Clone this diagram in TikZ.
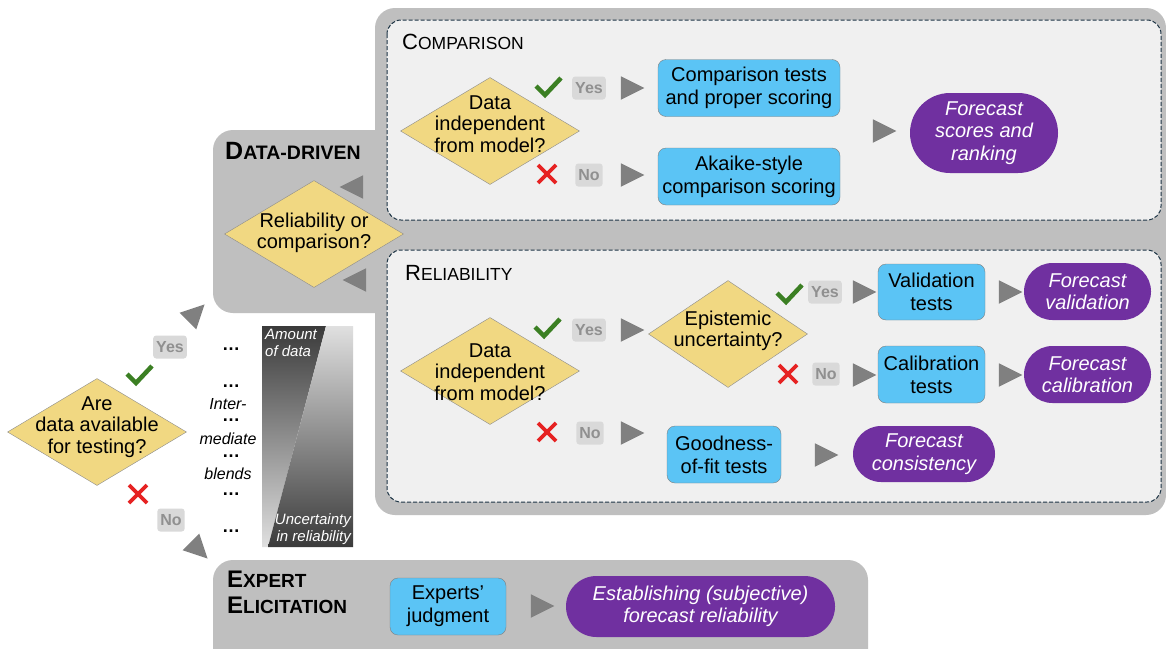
\documentclass[tikz,border=0pt]{standalone}
\usepackage{fontspec}
\setmainfont{Liberation Sans}
\usetikzlibrary{shapes.geometric,shapes.misc,positioning}

\definecolor{regiongray}{HTML}{BFBFBF}
\definecolor{panelfill}{HTML}{F0F0F0}
\definecolor{stagenavy}{HTML}{1C3344}
\definecolor{diamondfill}{HTML}{F1D882}
\definecolor{diamondline}{HTML}{8C8C8C}
\definecolor{testblue}{HTML}{5BC4F5}
\definecolor{testline}{HTML}{7F7F7F}
\definecolor{outpurple}{HTML}{7030A0}
\definecolor{arrowgray}{HTML}{808080}
\definecolor{taggray}{HTML}{D9D9D9}
\definecolor{tagtext}{HTML}{909090}
\definecolor{checkgreen}{HTML}{3B7F23}
\definecolor{crossred}{HTML}{E62222}
\definecolor{bardark}{HTML}{3A3A3A}
\definecolor{barlight}{HTML}{E0E0E0}

\newcommand\fs[2]{\fontsize{#1}{#2}\selectfont}
\newcommand\scword[4]{{\fs{#1}{#1}#3}{\fs{#2}{#2}#4}}

\begin{document}
\begin{tikzpicture}[x=1pt,y=-1pt,
	decision/.style={diamond, draw=diamondline, fill=diamondfill, minimum width=179pt, minimum height=107pt, inner sep=0pt},
	qtext/.style={align=center, font=\fs{20}{21.5}, inner sep=0pt},
	testbox/.style={rectangle, rounded corners=8pt, draw=testline, fill=testblue, align=center, font=\fs{20}{23}, inner sep=0pt, minimum height=57pt},
	outcome/.style={rounded rectangle, fill=outpurple, text=white, align=center, font=\fs{20}{22.5}\itshape, inner sep=0pt, minimum height=57pt},
	go/.style={isosceles triangle, isosceles triangle stretches, fill=arrowgray, minimum width=23.5pt, minimum height=23.5pt, inner sep=0pt},
	tag/.style={fill=taggray, text=tagtext, rounded corners=3pt, font=\fs{16}{16}\bfseries, inner xsep=3pt, inner ysep=0pt, minimum height=23pt},
	tick/.pic={\draw[checkgreen, line width=4.5pt] (-12,-1) -- (-3,8) -- (13,-9);},
	cross/.pic={\draw[crossred, line width=3.8pt] (-9,-9) -- (9,9) (-9,9) -- (9,-9);},
	stage/.style={draw=stagenavy, fill=panelfill, dash pattern=on 4pt off 2pt, line width=1pt, rounded corners=14pt},
	label/.style={anchor=base west, inner sep=0pt},
	blend/.style={font=\fs{16}{16}\itshape, inner sep=0pt},
	bartext/.style={text=white, font=\fs{15}{17}\itshape, inner sep=0pt},
	]
	\useasboundingbox (0,0) rectangle (1166,648);
	\fill[white] (0,0) rectangle (1166,648);

	% gray regions
	\fill[regiongray, rounded corners=20pt] (213,130) rectangle (420,313);
	\fill[regiongray, rounded corners=20pt] (375,8) rectangle (1166,515);
	\fill[regiongray, rounded corners=20pt] (213,560) rectangle (868,680);
	\draw[stage] (387,20) rectangle (1161,220);
	\draw[stage] (387,250) rectangle (1161,502);

	\node[label] (ddlabel) at (225,159) {\bfseries\scword{25}{19.5}{D}{ATA-DRIVEN}};
	\node[label] (cmplabel) at (402,49) {\scword{22}{17.5}{C}{OMPARISON}};
	\node[label] (rellabel) at (405,280) {\scword{22}{17.5}{R}{ELIABILITY}};
	\node[label] (explabel) at (227,587) {\bfseries\scword{24}{19}{E}{XPERT}};
	\node[label] (elilabel) at (227,613) {\bfseries\scword{24}{19}{E}{LICITATION}};

	% start
	\node[decision] (avail) at (97,432) {};
	\node[qtext] (availtxt) at (97,427) {Are\\data available\\for testing?};
	\pic (availyes) at (139,375) {tick};
	\node[tag] (availyestag) at (170,347) {Yes};
	\pic (availno) at (138,494) {cross};
	\node[tag] (availnotag) at (171,520) {No};
	\node[go, rotate=45] (togo) at (193,316) {};
	\node[go, rotate=-45] (toexp) at (196,547) {};

	% intermediate blends
	\foreach \y [count=\i] in {350,387,421,457,495,532}
		\node[anchor=base, inner sep=0pt, font=\fs{18}{18}\bfseries] (dots\i) at (231,\y) {…};
	\node[blend] (inter) at (228,404) {Inter-};
	\node[blend] (mediate) at (228,439) {mediate};
	\node[blend] (blends) at (228,474) {blends};
	\shade[top color=bardark, bottom color=barlight] (262,326) -- (326,326) -- (268,547) -- (262,547) -- cycle;
	\shade[top color=barlight, bottom color=bardark] (326,326) -- (353,326) -- (353,547) -- (268,547) -- cycle;
	\node[bartext, anchor=north west, align=left] (amount) at (265,329) {Amount\\of data};
	\node[bartext, anchor=south east, align=right] (uncert) at (351,545) {Uncertainty\\in reliability};

	% data-driven
	\node[decision] (relcmp) at (314,234) {};
	\node[qtext] (relcmptxt) at (314,233) {Reliability or\\comparison?};
	\node[go, shape border rotate=180] (tocmp) at (356,187) {};
	\node[go, shape border rotate=180] (torel) at (359,280) {};

	% comparison
	\node[decision] (cindep) at (490,131) {};
	\node[qtext] (cindeptxt) at (490,124) {Data\\independent\\from model?};
	\pic (cyes) at (548,87) {tick};
	\node[tag] (cyestag) at (589,88) {Yes};
	\node[go] (cyesgo) at (628,88) {};
	\pic (cno) at (547,174) {cross};
	\node[tag] (cnotag) at (589,175) {No};
	\node[go] (cnogo) at (628,175) {};
	\node[testbox, minimum width=182pt] (cmptests) at (749,88) {Comparison tests\\and proper scoring};
	\node[testbox, minimum width=182pt] (akaike) at (749,176.5) {Akaike-style\\comparison scoring};
	\node[go] (scorego) at (880,131) {};
	\node[outcome, minimum width=148pt, minimum height=80pt] (scores) at (984,133) {Forecast\\scores and\\ranking};

	% reliability
	\node[decision] (rindep) at (490,371) {};
	\node[qtext] (rindeptxt) at (490,372) {Data\\independent\\from model?};
	\pic (ryes) at (547,328) {tick};
	\node[tag] (ryestag) at (589,330) {Yes};
	\node[go] (ryesgo) at (628,330) {};
	\pic (rno) at (547,432) {cross};
	\node[tag] (rnotag) at (590,433) {No};
	\node[go] (rnogo) at (628,433) {};
	\node[decision, minimum width=159pt] (epist) at (728,334) {};
	\node[qtext] (episttxt) at (728,331) {Epistemic\\uncertainty?};
	\pic (eyes) at (789,294) {tick};
	\node[tag] (eyestag) at (825,292) {Yes};
	\node[go] (eyesgo) at (860,292) {};
	\pic (eno) at (788,374) {cross};
	\node[tag] (enotag) at (826,374) {No};
	\node[go] (enogo) at (860,375) {};
	\node[testbox, minimum width=107pt, minimum height=56pt] (valtests) at (931.5,292) {Validation\\tests};
	\node[go] (valgo) at (1006,292) {};
	\node[outcome, minimum width=127pt] (forval) at (1087.5,291.5) {Forecast\\validation};
	\node[testbox, minimum width=107pt] (caltests) at (931.5,374.5) {Calibration\\tests};
	\node[go] (calgo) at (1006,375) {};
	\node[outcome, minimum width=127pt] (forcal) at (1087.5,374.5) {Forecast\\calibration};
	\node[testbox, minimum width=114pt] (goftests) at (724,454.5) {Goodness-\\of-fit tests};
	\node[go] (gofgo) at (822,455) {};
	\node[outcome, minimum width=142pt, minimum height=56pt] (forcons) at (924,454) {Forecast\\consistency};

	% expert elicitation
	\node[testbox, minimum width=116pt] (judgment) at (448,606.5) {Experts’\\judgment};
	\node[go] (expgo) at (538,606) {};
	\node[outcome, minimum width=269pt, minimum height=61pt] (establish) at (700.5,606.5) {Establishing (subjective)\\forecast reliability};
\end{tikzpicture}
\end{document}
